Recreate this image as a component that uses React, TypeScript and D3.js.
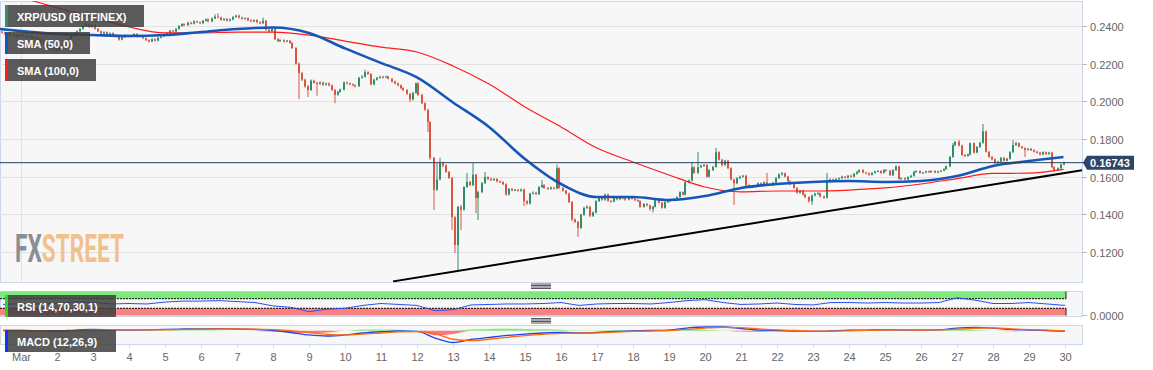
import React, { useEffect } from "react";
import * as d3 from "d3";

const W = 1153;
const H = 370;

// ---------- data ----------
const firstCandleOpen = Date.UTC(2020, 1, 29, 10); // 2h candles, first opens Feb 29 10:00 UTC
const candleMs = 2 * 3600 * 1000;
const firstOpen = 0.237;

const closes = [
  // Feb 29
  0.2365, 0.2358, 0.2362, 0.2350, 0.2355, 0.2345, 0.2352,
  // Mar 1
  0.2348, 0.2340, 0.2345, 0.2335, 0.2338, 0.2325, 0.2318, 0.2300, 0.2290, 0.2275, 0.2282, 0.2270,
  // Mar 2
  0.2285, 0.2298, 0.2310, 0.2330, 0.2345, 0.2360, 0.2372, 0.2385, 0.2400, 0.2410, 0.2395, 0.2405,
  // Mar 3
  0.2385, 0.2372, 0.2360, 0.2368, 0.2355, 0.2362, 0.2350, 0.2345, 0.2328, 0.2340, 0.2352, 0.2345,
  // Mar 4
  0.2350, 0.2358, 0.2342, 0.2348, 0.2335, 0.2325, 0.2318, 0.2330, 0.2322, 0.2338, 0.2345, 0.2352,
  // Mar 5
  0.2362, 0.2375, 0.2370, 0.2385, 0.2400, 0.2410, 0.2405, 0.2418, 0.2412, 0.2425, 0.2420, 0.2415,
  // Mar 6
  0.2428, 0.2435, 0.2425, 0.2440, 0.2450, 0.2445, 0.2432, 0.2438, 0.2428, 0.2435, 0.2448, 0.2455,
  // Mar 7
  0.2445, 0.2438, 0.2442, 0.2430, 0.2425, 0.2432, 0.2420, 0.2415, 0.2428, 0.2380, 0.2372, 0.2385,
  // Mar 8
  0.2330, 0.2320, 0.2325, 0.2318, 0.2322, 0.2310, 0.2283, 0.2200, 0.2150, 0.2115, 0.2080, 0.2060,
  // Mar 9
  0.2110, 0.2098, 0.2092, 0.2100, 0.2088, 0.2095, 0.2085, 0.2060, 0.2035, 0.2050, 0.2062, 0.2100,
  // Mar 10
  0.2095, 0.2090, 0.2085, 0.2080, 0.2125, 0.2130, 0.2155, 0.2145, 0.2090, 0.2115, 0.2125, 0.2130,
  // Mar 11
  0.2128, 0.2132, 0.2120, 0.2105, 0.2095, 0.2085, 0.2070, 0.2060, 0.2040, 0.2010, 0.2045, 0.2095,
  // Mar 12
  0.2034, 0.1990, 0.1955, 0.1890, 0.1700, 0.1530, 0.1585, 0.1672, 0.1660, 0.1625, 0.1593, 0.1385,
  // Mar 13
  0.1237, 0.1440, 0.1425, 0.1545, 0.1572, 0.1555, 0.1610, 0.1487, 0.1518, 0.1566, 0.1598, 0.1588,
  // Mar 14
  0.1582, 0.1588, 0.1575, 0.1572, 0.1560, 0.1505, 0.1535, 0.1528, 0.1530, 0.1525, 0.1532, 0.1470,
  // Mar 15
  0.1458, 0.1510, 0.1515, 0.1508, 0.1545, 0.1555, 0.1540, 0.1535, 0.1542, 0.1538, 0.1645, 0.1540,
  // Mar 16
  0.1525, 0.1510, 0.1465, 0.1372, 0.1360, 0.1328, 0.1398, 0.1434, 0.1440, 0.1392, 0.1410, 0.1470,
  // Mar 17
  0.1488, 0.1478, 0.1505, 0.1472, 0.1468, 0.1490, 0.1480, 0.1492, 0.1485, 0.1478, 0.1490, 0.1482,
  // Mar 18
  0.1475, 0.1470, 0.1440, 0.1455, 0.1448, 0.1428, 0.1440, 0.1475, 0.1462, 0.1435, 0.1465, 0.1470,
  // Mar 19
  0.1478, 0.1482, 0.1492, 0.1518, 0.1505, 0.1570, 0.1580, 0.1650, 0.1620, 0.1650, 0.1658, 0.1662,
  // Mar 20
  0.1600, 0.1635, 0.1652, 0.1730, 0.1690, 0.1662, 0.1685, 0.1645, 0.1585, 0.1565, 0.1592, 0.1600,
  // Mar 21
  0.1605, 0.1555, 0.1548, 0.1545, 0.1552, 0.1565, 0.1555, 0.1570, 0.1560, 0.1555, 0.1568, 0.1592,
  // Mar 22
  0.1612, 0.1618, 0.1600, 0.1575, 0.1560, 0.1540, 0.1515, 0.1525, 0.1505, 0.1492, 0.1470, 0.1500,
  // Mar 23
  0.1510, 0.1512, 0.1495, 0.1488, 0.1572, 0.1585, 0.1580, 0.1588, 0.1592, 0.1600, 0.1595, 0.1605,
  // Mar 24
  0.1600, 0.1615, 0.1625, 0.1635, 0.1622, 0.1618, 0.1610, 0.1620, 0.1628, 0.1630, 0.1620, 0.1635,
  // Mar 25
  0.1632, 0.1608, 0.1635, 0.1655, 0.1588, 0.1592, 0.1585, 0.1598, 0.1605, 0.1625, 0.1630, 0.1620,
  // Mar 26
  0.1622, 0.1628, 0.1625, 0.1630, 0.1622, 0.1628, 0.1632, 0.1640, 0.1655, 0.1705, 0.1768, 0.1785,
  // Mar 27
  0.1765, 0.1715, 0.1710, 0.1718, 0.1778, 0.1728, 0.1758, 0.1780, 0.1840, 0.1732, 0.1705, 0.1692,
  // Mar 28
  0.1672, 0.1680, 0.1700, 0.1685, 0.1695, 0.1730, 0.1768, 0.1778, 0.1760, 0.1752, 0.1742, 0.1748,
  // Mar 29
  0.1740, 0.1732, 0.1728, 0.1718, 0.1730, 0.1720, 0.1728, 0.1650, 0.1635, 0.1645, 0.1665, 0.16743,
];

const highs = [
  0.2376, 0.2370, 0.2366, 0.2368, 0.2360, 0.2361, 0.2356,
  0.2358, 0.2353, 0.2348, 0.2350, 0.2342, 0.2342, 0.2330, 0.2322, 0.2305, 0.2294, 0.2288, 0.2286,
  0.2290, 0.2302, 0.2315, 0.2335, 0.2350, 0.2366, 0.2378, 0.2390, 0.2406, 0.2418, 0.2414, 0.2410,
  0.2410, 0.2390, 0.2376, 0.2372, 0.2372, 0.2366, 0.2366, 0.2355, 0.2348, 0.2345, 0.2356, 0.2356,
  0.2355, 0.2362, 0.2362, 0.2352, 0.2352, 0.2340, 0.2330, 0.2335, 0.2334, 0.2342, 0.2350, 0.2356,
  0.2366, 0.2380, 0.2380, 0.2390, 0.2405, 0.2415, 0.2414, 0.2422, 0.2422, 0.2430, 0.2428, 0.2424,
  0.2432, 0.2440, 0.2440, 0.2445, 0.2462, 0.2468, 0.2450, 0.2442, 0.2442, 0.2440, 0.2452, 0.2460,
  0.2460, 0.2450, 0.2446, 0.2446, 0.2436, 0.2436, 0.2436, 0.2425, 0.2445, 0.2432, 0.2386, 0.2390,
  0.2390, 0.2336, 0.2330, 0.2330, 0.2326, 0.2326, 0.2314, 0.2288, 0.2206, 0.2156, 0.2120, 0.2086,
  0.2116, 0.2115, 0.2104, 0.2106, 0.2105, 0.2100, 0.2100, 0.2090, 0.2066, 0.2055, 0.2068, 0.2106,
  0.2105, 0.2100, 0.2096, 0.2090, 0.2130, 0.2140, 0.2168, 0.2160, 0.2150, 0.2120, 0.2130, 0.2136,
  0.2136, 0.2136, 0.2136, 0.2124, 0.2110, 0.2100, 0.2090, 0.2075, 0.2065, 0.2044, 0.2050, 0.2100,
  0.2102, 0.2040, 0.1995, 0.1960, 0.1895, 0.1705, 0.1672, 0.1700, 0.1680, 0.1665, 0.1630, 0.1598,
  0.1390, 0.1445, 0.1450, 0.1550, 0.1620, 0.1578, 0.1672, 0.1615, 0.1525, 0.1572, 0.1625, 0.1602,
  0.1595, 0.1592, 0.1592, 0.1580, 0.1576, 0.1565, 0.1540, 0.1540, 0.1535, 0.1535, 0.1536, 0.1536,
  0.1475, 0.1515, 0.1522, 0.1520, 0.1550, 0.1582, 0.1560, 0.1545, 0.1548, 0.1546, 0.1665, 0.1650,
  0.1545, 0.1530, 0.1515, 0.1470, 0.1378, 0.1365, 0.1402, 0.1440, 0.1448, 0.1445, 0.1415, 0.1475,
  0.1494, 0.1495, 0.1510, 0.1510, 0.1476, 0.1496, 0.1496, 0.1498, 0.1496, 0.1490, 0.1495, 0.1495,
  0.1488, 0.1480, 0.1475, 0.1460, 0.1460, 0.1452, 0.1445, 0.1480, 0.1480, 0.1466, 0.1470, 0.1476,
  0.1484, 0.1486, 0.1496, 0.1522, 0.1522, 0.1575, 0.1585, 0.1678, 0.1655, 0.1731, 0.1664, 0.1668,
  0.1668, 0.1640, 0.1658, 0.1752, 0.1735, 0.1695, 0.1690, 0.1690, 0.1650, 0.1590, 0.1598, 0.1606,
  0.1610, 0.1610, 0.1560, 0.1552, 0.1556, 0.1570, 0.1570, 0.1575, 0.1620, 0.1565, 0.1572, 0.1598,
  0.1618, 0.1625, 0.1622, 0.1604, 0.1580, 0.1565, 0.1545, 0.1530, 0.1530, 0.1510, 0.1496, 0.1505,
  0.1515, 0.1518, 0.1516, 0.1500, 0.1620, 0.1590, 0.1590, 0.1592, 0.1596, 0.1605, 0.1604, 0.1610,
  0.1610, 0.1620, 0.1630, 0.1640, 0.1640, 0.1626, 0.1622, 0.1625, 0.1632, 0.1635, 0.1634, 0.1640,
  0.1640, 0.1636, 0.1640, 0.1660, 0.1658, 0.1596, 0.1596, 0.1602, 0.1610, 0.1630, 0.1635, 0.1634,
  0.1626, 0.1632, 0.1632, 0.1634, 0.1634, 0.1632, 0.1636, 0.1645, 0.1660, 0.1710, 0.1779, 0.1790,
  0.1795, 0.1770, 0.1720, 0.1722, 0.1782, 0.1782, 0.1762, 0.1785, 0.1880, 0.1845, 0.1736, 0.1710,
  0.1698, 0.1684, 0.1705, 0.1705, 0.1700, 0.1735, 0.1795, 0.1785, 0.1782, 0.1764, 0.1756, 0.1752,
  0.1752, 0.1746, 0.1738, 0.1732, 0.1735, 0.1734, 0.1732, 0.1732, 0.1655, 0.1650, 0.1670, 0.1680,
];

const lows = [
  0.2360, 0.2352, 0.2354, 0.2346, 0.2346, 0.2340, 0.2342,
  0.2344, 0.2335, 0.2336, 0.2330, 0.2330, 0.2320, 0.2312, 0.2295, 0.2284, 0.2268, 0.2270, 0.2262,
  0.2265, 0.2280, 0.2292, 0.2305, 0.2325, 0.2340, 0.2355, 0.2366, 0.2380, 0.2395, 0.2390, 0.2390,
  0.2380, 0.2368, 0.2355, 0.2356, 0.2350, 0.2350, 0.2345, 0.2340, 0.2322, 0.2324, 0.2336, 0.2340,
  0.2340, 0.2345, 0.2338, 0.2338, 0.2330, 0.2320, 0.2312, 0.2314, 0.2318, 0.2318, 0.2334, 0.2340,
  0.2348, 0.2358, 0.2365, 0.2366, 0.2380, 0.2395, 0.2400, 0.2400, 0.2408, 0.2408, 0.2415, 0.2410,
  0.2410, 0.2424, 0.2420, 0.2420, 0.2436, 0.2440, 0.2428, 0.2428, 0.2424, 0.2424, 0.2430, 0.2444,
  0.2440, 0.2434, 0.2434, 0.2426, 0.2420, 0.2420, 0.2415, 0.2410, 0.2410, 0.2376, 0.2365, 0.2368,
  0.2325, 0.2315, 0.2315, 0.2312, 0.2314, 0.2305, 0.2278, 0.2195, 0.2012, 0.2108, 0.2072, 0.2023,
  0.2055, 0.2094, 0.2030, 0.2088, 0.2082, 0.2084, 0.2080, 0.2055, 0.1990, 0.2030, 0.2046, 0.2058,
  0.2090, 0.2085, 0.2080, 0.2074, 0.2076, 0.2120, 0.2126, 0.2140, 0.2085, 0.2085, 0.2110, 0.2120,
  0.2122, 0.2124, 0.2116, 0.2100, 0.2090, 0.2080, 0.2064, 0.2054, 0.2035, 0.1996, 0.2005, 0.2040,
  0.2030, 0.1985, 0.1950, 0.1837, 0.1690, 0.1423, 0.1525, 0.1580, 0.1650, 0.1620, 0.1588, 0.1317,
  0.1195, 0.1104, 0.1317, 0.1420, 0.1540, 0.1550, 0.1550, 0.1407, 0.1370, 0.1512, 0.1560, 0.1582,
  0.1576, 0.1578, 0.1570, 0.1566, 0.1555, 0.1498, 0.1500, 0.1522, 0.1524, 0.1520, 0.1520, 0.1444,
  0.1450, 0.1452, 0.1505, 0.1502, 0.1502, 0.1540, 0.1535, 0.1530, 0.1530, 0.1532, 0.1532, 0.1535,
  0.1520, 0.1505, 0.1460, 0.1365, 0.1354, 0.1280, 0.1322, 0.1392, 0.1428, 0.1385, 0.1386, 0.1405,
  0.1465, 0.1472, 0.1472, 0.1466, 0.1462, 0.1464, 0.1474, 0.1475, 0.1480, 0.1472, 0.1474, 0.1478,
  0.1470, 0.1466, 0.1435, 0.1435, 0.1442, 0.1420, 0.1410, 0.1436, 0.1458, 0.1430, 0.1430, 0.1460,
  0.1465, 0.1472, 0.1478, 0.1488, 0.1500, 0.1500, 0.1565, 0.1575, 0.1615, 0.1615, 0.1645, 0.1652,
  0.1595, 0.1595, 0.1630, 0.1648, 0.1685, 0.1655, 0.1658, 0.1640, 0.1580, 0.1450, 0.1560, 0.1586,
  0.1595, 0.1550, 0.1542, 0.1538, 0.1540, 0.1548, 0.1550, 0.1550, 0.1555, 0.1550, 0.1550, 0.1564,
  0.1588, 0.1606, 0.1596, 0.1570, 0.1555, 0.1535, 0.1510, 0.1510, 0.1500, 0.1486, 0.1462, 0.1450,
  0.1495, 0.1505, 0.1490, 0.1482, 0.1484, 0.1568, 0.1575, 0.1576, 0.1584, 0.1588, 0.1590, 0.1590,
  0.1595, 0.1596, 0.1610, 0.1620, 0.1618, 0.1612, 0.1605, 0.1606, 0.1616, 0.1624, 0.1615, 0.1616,
  0.1628, 0.1604, 0.1604, 0.1630, 0.1584, 0.1584, 0.1580, 0.1580, 0.1594, 0.1600, 0.1620, 0.1615,
  0.1615, 0.1618, 0.1620, 0.1620, 0.1618, 0.1618, 0.1624, 0.1628, 0.1636, 0.1650, 0.1700, 0.1762,
  0.1760, 0.1710, 0.1704, 0.1705, 0.1712, 0.1722, 0.1724, 0.1752, 0.1775, 0.1728, 0.1700, 0.1686,
  0.1666, 0.1668, 0.1676, 0.1680, 0.1680, 0.1690, 0.1725, 0.1762, 0.1755, 0.1748, 0.1704, 0.1738,
  0.1736, 0.1728, 0.1722, 0.1712, 0.1714, 0.1716, 0.1716, 0.1645, 0.1628, 0.1630, 0.1640, 0.1660,
];

// SMA values read daily (first = Feb 29 10:00, then Mar 1..29 00:00, last = Mar 29 23:00)
const sma50 = [
  0.2384, 0.2373, 0.2358, 0.2352, 0.2347, 0.2352, 0.2368, 0.2384, 0.2392, 0.2363, 0.2281,
  0.2204, 0.2127, 0.1994, 0.1864, 0.1694, 0.1561, 0.1492, 0.1492, 0.1476, 0.1497, 0.1540,
  0.1561, 0.1572, 0.1577, 0.1572, 0.1577, 0.1603, 0.1657, 0.1683, 0.1704,
];
const sma100 = [
  0.2584, 0.2552, 0.2497, 0.2448, 0.2395, 0.2363, 0.2363, 0.2368, 0.2368, 0.2352, 0.2320,
  0.2288, 0.2262, 0.2188, 0.2092, 0.1970, 0.1864, 0.1752, 0.1678, 0.1609, 0.1545, 0.1519,
  0.1524, 0.1524, 0.1529, 0.1540, 0.1561, 0.1590, 0.1617, 0.1619, 0.1639,
];

const lastPrice = 0.16743;
const trendPrices = [0.1044, 0.1635];
const trendTimes = [Date.UTC(2020, 2, 11, 8), Date.UTC(2020, 2, 30, 12)];

const priceTicks = [0.12, 0.14, 0.16, 0.18, 0.2, 0.22, 0.24];
const dayLabels = [
  "Mar", "2", "3", "4", "5", "6", "7", "8", "9", "10", "11", "12", "13", "14", "15",
  "16", "17", "18", "19", "20", "21", "22", "23", "24", "25", "26", "27", "28", "29", "30",
];

// indicators read every 12h starting Feb 29 12:00
const rsiValues = [
  46, 50, 48, 50, 58, 54, 48, 50, 48, 56, 60, 60, 62, 58, 54, 40, 34, 16, 26, 30,
  42, 50, 46, 42, 20, 24, 44, 46, 48, 48, 50, 54, 42, 48, 50, 50, 48, 54, 62, 66,
  54, 46, 48, 52, 46, 44, 54, 54, 52, 54, 52, 52, 54, 74, 64, 50, 50, 54, 48, 42,
];
const macdValues = [
  0.0002, 0.0002, -0.0001, -0.0003, 0.0007, 0.0013, 0.0009, 0.0007, 0.0009, 0.0015,
  0.0018, 0.0020, 0.0021, 0.0018, 0.0015, 0.0002, -0.0019, -0.0045, -0.0056, -0.0045,
  -0.0024, -0.0011, -0.0003, -0.0008, -0.0077, -0.0124, -0.0092, -0.0071, -0.0050, -0.0035,
  -0.0024, -0.0019, -0.0024, -0.0019, -0.0008, -0.0003, 0.0002, 0.0007, 0.0028, 0.0039,
  0.0039, 0.0023, 0.0007, 0.0002, -0.0003, -0.0008, -0.0003, 0.0005, 0.0007, 0.0009,
  0.0007, 0.0007, 0.0009, 0.0028, 0.0034, 0.0028, 0.0013, 0.0007, 0.0002, -0.0008,
];
const signalValues = [
  0.0003, 0.0003, 0.0001, -0.0001, 0.0001, 0.0006, 0.0008, 0.0008, 0.0008, 0.0010,
  0.0013, 0.0016, 0.0018, 0.0018, 0.0017, 0.0011, 0.0000, -0.0020, -0.0038, -0.0044,
  -0.0036, -0.0024, -0.0013, -0.0010, -0.0030, -0.0090, -0.0105, -0.0090, -0.0070, -0.0052,
  -0.0038, -0.0028, -0.0025, -0.0022, -0.0015, -0.0008, -0.0003, 0.0002, 0.0013, 0.0028,
  0.0036, 0.0032, 0.0018, 0.0008, 0.0002, -0.0004, -0.0005, -0.0001, 0.0004, 0.0007,
  0.0008, 0.0007, 0.0008, 0.0016, 0.0026, 0.0029, 0.0020, 0.0011, 0.0005, -0.0003,
];

// ---------- layout ----------
const PLOT_R = 1082;
const MAIN_T = 1;
const MAIN_B = 282;
const RSI_T = 291;
const RSI_B = 316;
const MACD_T = 325;
const MACD_B = 344;
const FONT = "'Liberation Sans', Arial, Helvetica, sans-serif";
const UP = "#2f8f6d";
const DOWN = "#d9553f";
const FRAME = "#ccd6eb";

function Handle({ cx, top }: { cx: number; top: number }) {
  return (
    <g stroke="#555" strokeWidth={1}>
      {[0, 1.5, 3, 4.5].map((d, i) => (
        <line key={i} x1={cx - 10} x2={cx + 10} y1={top + d} y2={top + d} />
      ))}
    </g>
  );
}

function Label({ x, y, w, color, text }: { x: number; y: number; w: number; color: string; text: string }) {
  return (
    <g>
      <rect x={x} y={y} width={w} height={22} fill="rgba(62,62,62,0.85)" />
      <rect x={x} y={y} width={3} height={22} fill={color} />
      <text x={x + 12} y={y + 15.5} fill="#fff" fontSize={11} fontWeight="bold" fontFamily={FONT}>
        {text}
      </text>
    </g>
  );
}

export default function App() {
  useEffect(() => {
    document.body.style.margin = "0";
  }, []);

  const x = d3
    .scaleUtc()
    .domain([new Date(Date.UTC(2020, 2, 1)), new Date(Date.UTC(2020, 2, 30))])
    .range([21, 1065]);
  const y = d3.scaleLinear().domain([0.12, 0.24]).range([252, 26]);
  const ry = d3.scaleLinear().domain([0, 100]).range([315.5, 291.5]);
  const my = d3.scaleLinear().domain([-0.014, 0.006]).range([MACD_B, MACD_T]);

  const n = Math.min(closes.length, highs.length, lows.length);
  const candles = d3.range(n).map((i) => {
    const o = i === 0 ? firstOpen : closes[i - 1];
    const c = closes[i];
    return {
      t: new Date(firstCandleOpen + i * candleMs + candleMs / 2),
      o,
      c,
      h: Math.max(highs[i], o, c),
      l: Math.min(lows[i], o, c),
    };
  });

  const smaTimes = [
    Date.UTC(2020, 1, 29, 10),
    ...d3.range(1, 30).map((d) => Date.UTC(2020, 2, d)),
    Date.UTC(2020, 2, 29, 23),
  ].map((t) => new Date(t));

  const smaLine = d3
    .line<[Date, number]>()
    .x((d) => x(d[0]))
    .y((d) => y(d[1]))
    .curve(d3.curveMonotoneX);

  const indTimes = d3.range(rsiValues.length).map((i) => new Date(Date.UTC(2020, 1, 29, 12) + i * 12 * 3600 * 1000));
  const rsiLine = d3
    .line<number>()
    .x((_, i) => x(indTimes[i]))
    .y((d) => ry(d));
  const macdLine = d3
    .line<number>()
    .x((_, i) => x(indTimes[i]))
    .y((d) => my(d))
    .curve(d3.curveMonotoneX);
  const hist = macdValues.map((v, i) => v - signalValues[i]);
  const histPos = d3
    .area<number>()
    .x((_, i) => x(indTimes[i]))
    .y0(my(0))
    .y1((d) => my(Math.max(0, d)))
    .curve(d3.curveMonotoneX);
  const histNeg = d3
    .area<number>()
    .x((_, i) => x(indTimes[i]))
    .y0(my(0))
    .y1((d) => my(Math.min(0, d)))
    .curve(d3.curveMonotoneX);

  const days = d3.range(1, 31).map((d) => new Date(Date.UTC(2020, 2, d)));
  const lastY = y(lastPrice);

  return (
    <svg
      width={W}
      height={H}
      style={{ position: "absolute", left: 0, top: 0, display: "block", background: "#fff" }}
      fontFamily={FONT}
    >
      <defs>
        <clipPath id="clipMain">
          <rect x={0} y={MAIN_T} width={PLOT_R} height={MAIN_B - MAIN_T} />
        </clipPath>
        <clipPath id="clipRsi">
          <rect x={0} y={RSI_T} width={PLOT_R} height={RSI_B - RSI_T} />
        </clipPath>
        <clipPath id="clipMacd">
          <rect x={0} y={MACD_T} width={PLOT_R} height={MACD_B - MACD_T} />
        </clipPath>
        <linearGradient id="fxGrad" gradientUnits="userSpaceOnUse" x1={15} x2={124} y1={0} y2={0}>
          <stop offset="0" stopColor="#8b8e95" />
          <stop offset="0.245" stopColor="#8b8e95" />
          <stop offset="0.245" stopColor="#f1c18c" />
          <stop offset="1" stopColor="#f1c18c" />
        </linearGradient>
      </defs>

      {/* main panel */}
      <rect x={0.5} y={MAIN_T + 0.5} width={PLOT_R} height={MAIN_B - MAIN_T} fill="#f7f7f7" stroke={FRAME} />
      <g clipPath="url(#clipMain)">
        {priceTicks.map((t) => (
          <line key={t} x1={0} x2={PLOT_R} y1={Math.round(y(t)) + 0.5} y2={Math.round(y(t)) + 0.5} stroke="#e2e2e2" />
        ))}
        <line x1={Math.round(x(days[0])) + 0.5} x2={Math.round(x(days[0])) + 0.5} y1={MAIN_T} y2={MAIN_B} stroke="#e2e2e2" />

        {/* watermark */}
        <text x={15} y={262} fontSize={38} fontWeight="bold" fontFamily="Roboto, sans-serif" fill="url(#fxGrad)" textLength={109} lengthAdjust="spacingAndGlyphs">
          FXSTREET
        </text>

        {/* candles */}
        {candles.map((d, i) => {
          const cx = Math.round(x(d.t));
          const col = d.c >= d.o ? UP : DOWN;
          const yTop = y(Math.max(d.o, d.c));
          const yBot = y(Math.min(d.o, d.c));
          return (
            <g key={i}>
              <line x1={cx} x2={cx} y1={y(d.h)} y2={y(d.l)} stroke={col} strokeWidth={1} />
              <rect x={cx - 1} y={yTop} width={2} height={Math.max(1, yBot - yTop)} fill={col} />
            </g>
          );
        })}

        {/* SMA lines */}
        <path d={smaLine(smaTimes.map((t, i) => [t, sma100[i]]) as [Date, number][]) || ""} fill="none" stroke="#ff1a1a" strokeWidth={1.2} />
        <path d={smaLine(smaTimes.map((t, i) => [t, sma50[i]]) as [Date, number][]) || ""} fill="none" stroke="#1656b8" strokeWidth={2.6} />

        {/* trend line */}
        <line
          x1={x(new Date(trendTimes[0]))}
          y1={y(trendPrices[0])}
          x2={x(new Date(trendTimes[1]))}
          y2={y(trendPrices[1])}
          stroke="#000"
          strokeWidth={2}
        />
      </g>

      {/* last price line + label */}
      <line x1={0} x2={1084} y1={lastY} y2={lastY} stroke="#2c3e5c" strokeWidth={1} />
      <path
        d={`M1083,${lastY} L1087,${lastY - 7} L1134,${lastY - 7} L1134,${lastY + 7} L1087,${lastY + 7} Z`}
        fill="#2f4566"
      />
      <text x={1090} y={lastY + 4} fill="#fff" fontSize={11} fontWeight="bold">
        {lastPrice.toFixed(5)}
      </text>

      {/* price axis */}
      {priceTicks.map((t) => {
        const yy = Math.round(y(t)) + 0.5;
        return (
          <g key={t}>
            <line x1={PLOT_R} x2={PLOT_R + 5} y1={yy} y2={yy} stroke="#bbb" />
            <text x={1090} y={yy + 4} fontSize={11} fill="#666">
              {t.toFixed(4)}
            </text>
          </g>
        );
      })}

      {/* RSI panel */}
      <Handle cx={541} top={284} />
      <rect x={0.5} y={RSI_T + 0.5} width={PLOT_R} height={RSI_B - RSI_T} fill="#f7f7f7" stroke={FRAME} />
      <g clipPath="url(#clipRsi)">
        <rect x={0} y={ry(100)} width={1066} height={ry(70) - ry(100)} fill="#7fe97f" />
        <rect x={0} y={ry(30)} width={1066} height={ry(0) - ry(30)} fill="#fb8080" />
        <line x1={1066} x2={1066} y1={ry(100)} y2={ry(70)} stroke="#222" />
        <line x1={1066} x2={1066} y1={ry(30)} y2={ry(0)} stroke="#222" />
        <line x1={0} x2={1066} y1={ry(70)} y2={ry(70)} stroke="#000" strokeDasharray="2,1" />
        <line x1={0} x2={1066} y1={ry(30)} y2={ry(30)} stroke="#000" strokeDasharray="2,1" />
        <path d={rsiLine(rsiValues) || ""} fill="none" stroke="#2d4ff0" strokeWidth={1} />
      </g>
      <line x1={PLOT_R} x2={PLOT_R + 5} y1={315.5} y2={315.5} stroke="#bbb" />
      <text x={1090} y={319.5} fontSize={11} fill="#666">
        0.0000
      </text>

      {/* MACD panel */}
      <Handle cx={541} top={318.5} />
      <rect x={0.5} y={MACD_T + 0.5} width={PLOT_R} height={MACD_B - MACD_T} fill="#f7f7f7" stroke={FRAME} />
      <g clipPath="url(#clipMacd)">
        <path d={histPos(hist) || ""} fill="#33dd33" opacity={0.6} />
        <path d={histNeg(hist) || ""} fill="#ff2020" opacity={0.6} />
        <path d={macdLine(macdValues) || ""} fill="none" stroke="#2244ee" strokeWidth={1.3} />
        <path d={macdLine(signalValues) || ""} fill="none" stroke="#ff6a10" strokeWidth={1.3} />
      </g>

      {/* date axis */}
      {days.map((d, i) => {
        const xx = Math.round(x(d)) + 0.5;
        return (
          <g key={i}>
            <line x1={xx} x2={xx} y1={MACD_B + 1} y2={MACD_B + 4} stroke={FRAME} />
            <text x={xx} y={361} fontSize={11} fill="#666" textAnchor="middle">
              {dayLabels[i]}
            </text>
          </g>
        );
      })}

      {/* legends */}
      <Label x={5} y={5} w={139} color="#2f8f6d" text="XRP/USD (BITFINEX)" />
      <Label x={5} y={32} w={85} color="#1656b8" text="SMA (50,0)" />
      <Label x={5} y={59} w={91} color="#ff1a1a" text="SMA (100,0)" />
      <Label x={5} y={295} w={111} color="#22dd22" text="RSI (14,70,30,1)" />
      <Label x={5} y={330} w={111} color="#1133ff" text="MACD (12,26,9)" />
    </svg>
  );
}
